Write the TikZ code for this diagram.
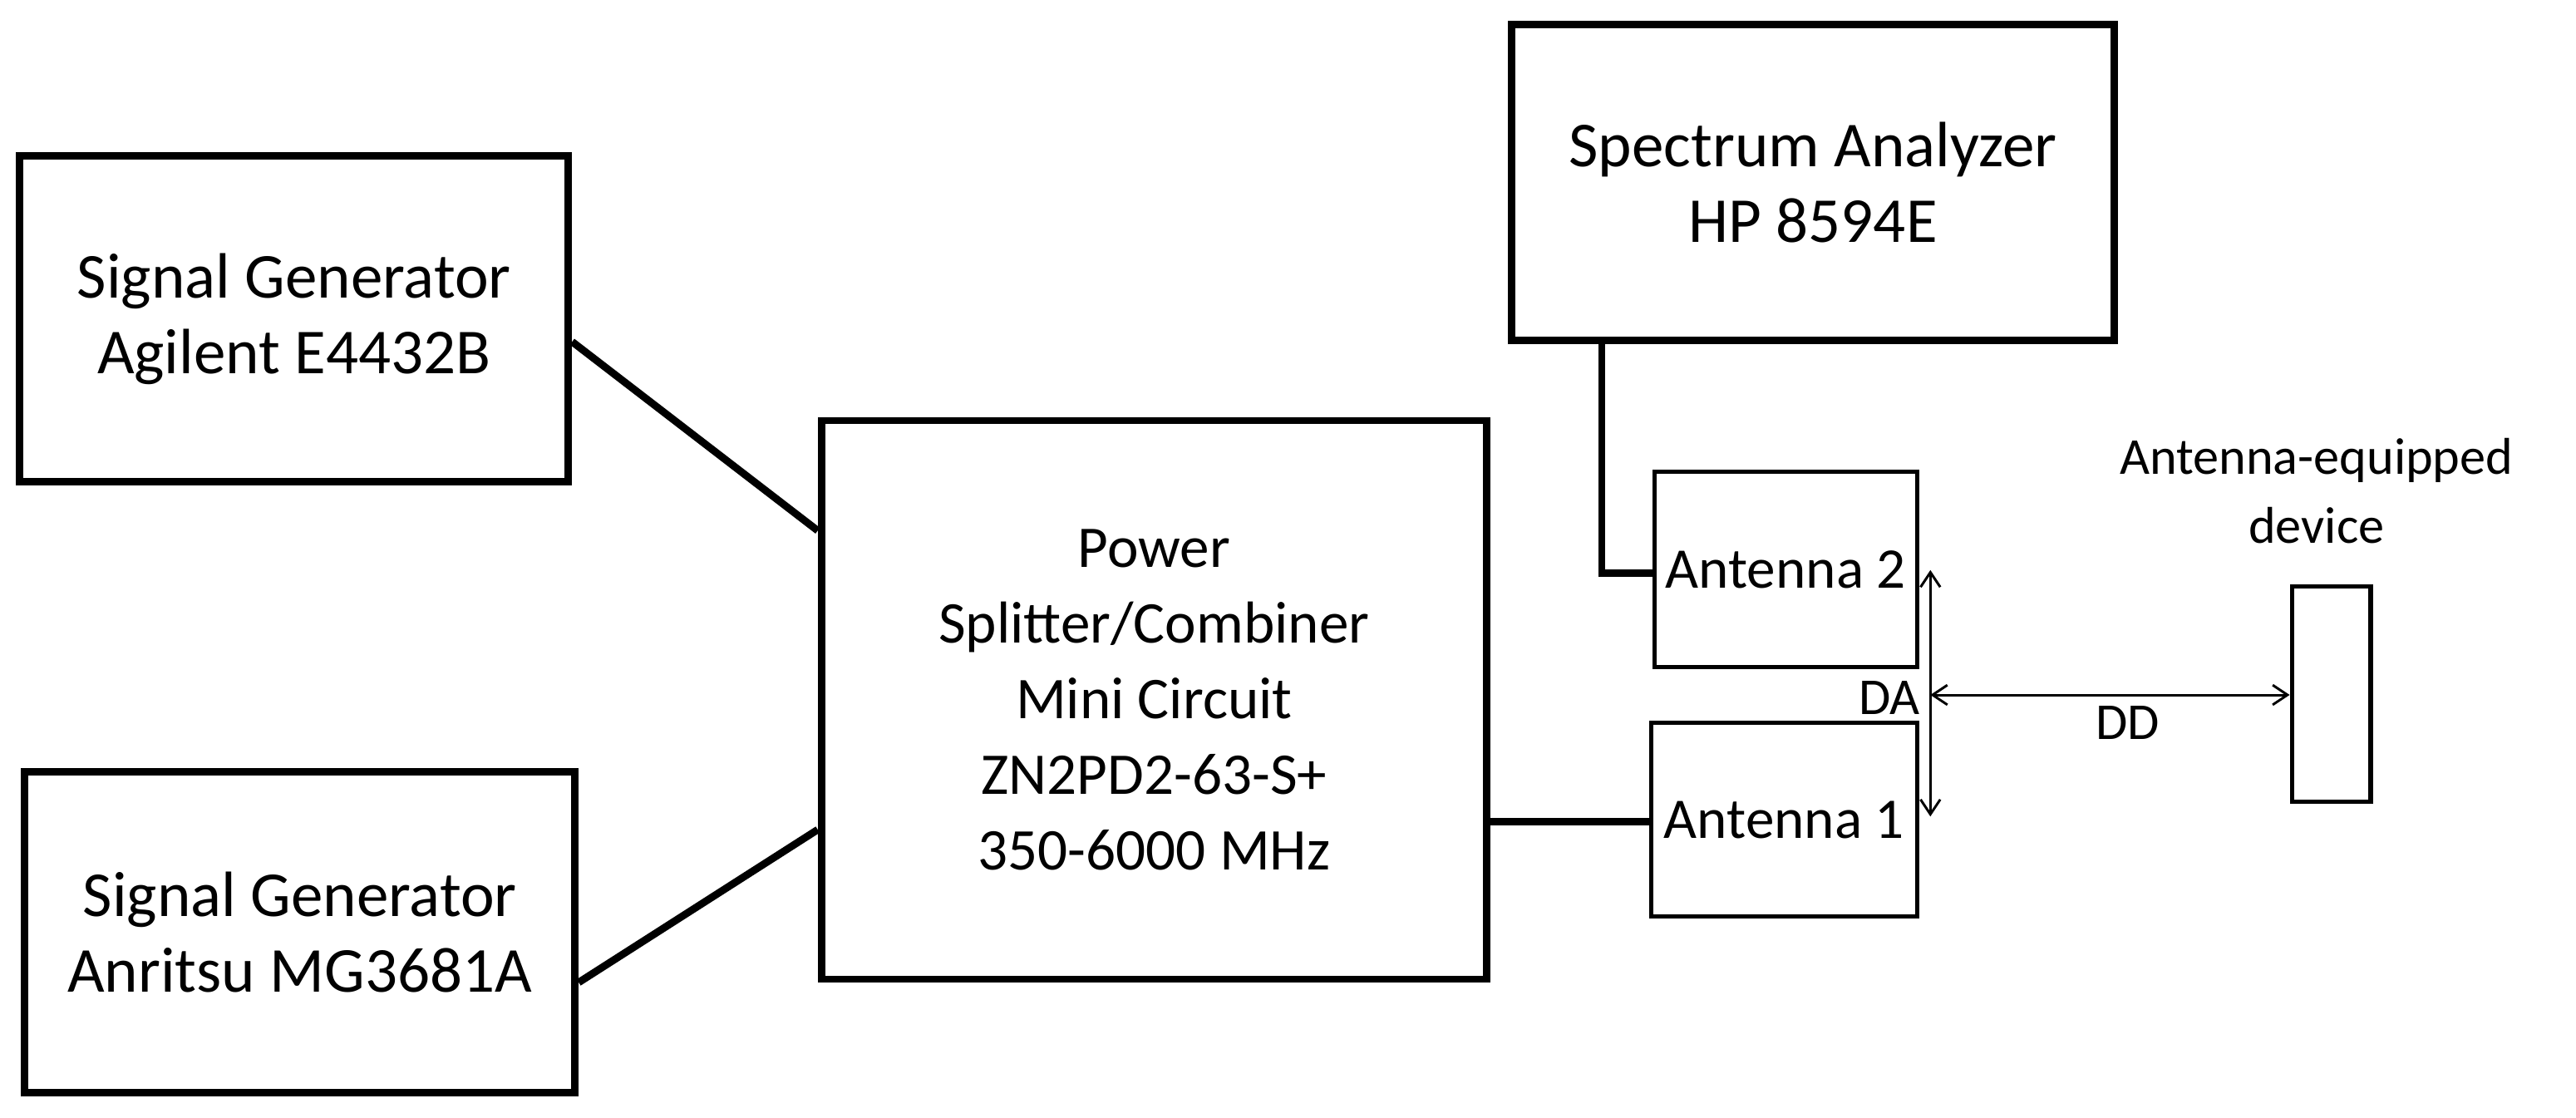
\documentclass[tikz,border=0pt]{standalone}
\usepackage{fontspec}
\setmainfont{Carlito}
\usetikzlibrary{arrows.meta}
\begin{document}
\begin{tikzpicture}[x=1pt,y=-1pt,
 box/.style={draw,line width=4.5pt,inner sep=0pt},
 thin box/.style={draw,line width=2.6pt,inner sep=0pt},
 lbl/.style={font=\fontsize{39}{46}\selectfont,align=center},
 mid/.style={font=\fontsize{36}{46}\selectfont,align=center},
 ant/.style={font=\fontsize{35}{42}\selectfont,align=center},
 small/.style={font=\fontsize{31.5}{42}\selectfont,align=center},
 wire/.style={line width=4.5pt},
 dim/.style={line width=1.5pt,{Straight Barb[length=9pt,width=12pt]}-{Straight Barb[length=9pt,width=12pt]}}]
\useasboundingbox (0,0) rectangle (1568,680.5);
\node[box,minimum width=334pt,minimum height=198pt] (sg1) at (179,194) {};
\node[lbl] at (sg1) {Signal Generator\\Agilent E4432B};
\node[box,minimum width=335pt,minimum height=195pt] (sg2) at (182.5,567.5) {};
\node[lbl] at (sg2) {Signal Generator\\Anritsu MG3681A};
\node[box,minimum width=405pt,minimum height=340pt] (ps) at (702.5,426) {};
\node[mid] at (ps) {Power\\Splitter/Combiner\\Mini Circuit\\ZN2PD2-63-S+\\350-6000 MHz};
\node[box,minimum width=367pt,minimum height=192pt] (sa) at (1103.5,111) {};
\node[lbl] at (sa) {Spectrum Analyzer\\HP 8594E};
\node[thin box,minimum width=160pt,minimum height=119pt] (a2) at (1087,346.5) {};
\node[ant] at (a2) {Antenna 2};
\node[thin box,minimum width=162pt,minimum height=118pt] (a1) at (1086,499) {};
\node[ant] at (a1) {Antenna 1};
\node[thin box,minimum width=48pt,minimum height=131pt] (dev) at (1419,422.5) {};
\node[small] at (1410,299) {Antenna-equipped\\device};
\draw[wire] (sg1.east|-0,208) -- (ps.west|-0,323);
\draw[wire] (sg2.east|-0,598) -- (ps.west|-0,505);
\draw[wire] (ps.east|-0,500) -- (a1.west|-0,500);
\coordinate (c) at (975,349);
\draw[wire] (sa.south-|c) -- (c) -- (a2.west|-c);
\coordinate (dt) at (1175,347);
\coordinate (db) at (1175,497);
\draw[dim] (dt) -- (db);
\coordinate (dl) at (1175,423);
\draw[dim] (dl) -- (dev.west|-dl);
\node[small] at (1150,425) {DA};
\node[small] at (1295,440) {DD};
\end{tikzpicture}
\end{document}
